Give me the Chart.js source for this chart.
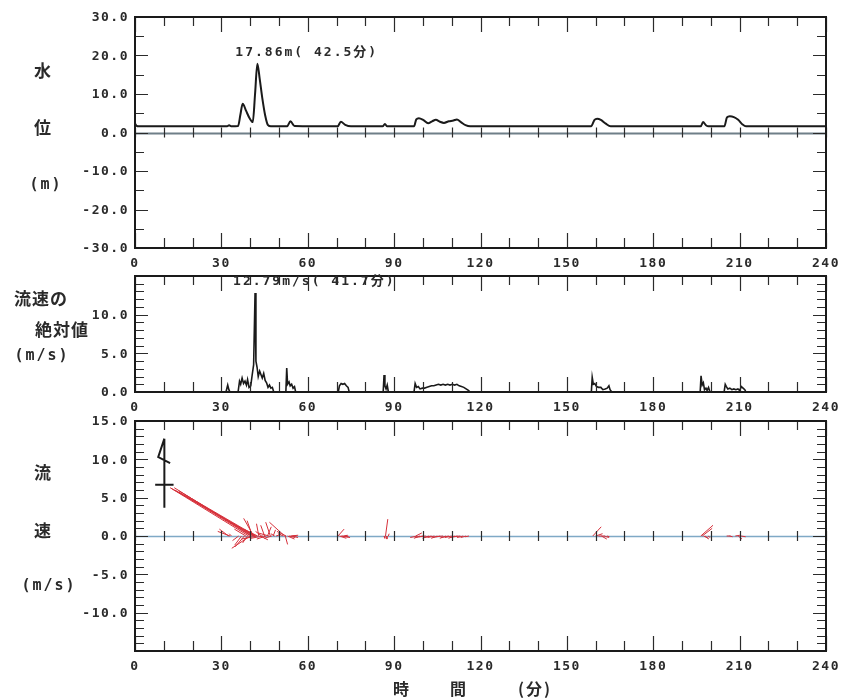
<!DOCTYPE html>
<html><head><meta charset="utf-8">
<script src="https://cdn.jsdelivr.net/npm/chart.js@4.4.1/dist/chart.umd.min.js"></script>
<style>
html,body{margin:0;padding:0;background:#fff;}
#wrap{position:relative;width:843px;height:700px;overflow:hidden;background:#fff;}
canvas{position:absolute;left:0;}
.t{position:absolute;color:#2a2a2a;white-space:nowrap;transform:translate(-50%,-50%);line-height:1;font-weight:bold;}
.cjk{font-family:"Noto Sans CJK JP";font-size:17px;letter-spacing:1px;}
.mono{font-family:"DejaVu Sans Mono";font-size:15px;letter-spacing:2px;}
.cjk2{font-family:"Noto Sans CJK JP";font-size:16px;letter-spacing:2px;}
</style></head><body>
<div id="wrap">
<canvas id="c1" width="843" height="275" style="top:0px"></canvas>
<canvas id="c2" width="843" height="153" style="top:266px"></canvas>
<canvas id="c3" width="843" height="268" style="top:410px"></canvas>

<div class="t cjk" style="left:43px;top:69px">水</div>
<div class="t cjk" style="left:43px;top:126px">位</div>
<div class="t mono" style="left:46px;top:184px">(m)</div>

<div class="t cjk" style="left:41px;top:297px">流速の</div>
<div class="t cjk" style="left:62px;top:328px">絶対値</div>
<div class="t mono" style="left:42px;top:355px">(m/s)</div>

<div class="t cjk" style="left:43px;top:471px">流</div>
<div class="t cjk" style="left:43px;top:529px">速</div>
<div class="t mono" style="left:49px;top:585px">(m/s)</div>

<div class="t cjk2" style="left:402px;top:688px">時</div>
<div class="t cjk2" style="left:459px;top:688px">間</div>
<div class="t cjk2" style="left:535px;top:688px">(分)</div>
</div>
<script>
// ---------- tick labels ----------
const xTickLabels = [0, 30, 60, 90, 120, 150, 180, 210, 240];
const levelTicks  = [-30, -20, -10, 0, 10, 20, 30];
const speedTicks  = [0, 5, 10];
const vectorTicks = [-10, -5, 0, 5, 10, 15];

// ---------- water level (m) vs time (min) ----------
const levelTime = [
  0, 0.6, 1.2,
  32.0, 32.7, 33.4,
  35.8, 36.6, 37.4, 38.6, 39.8, 40.9, 41.7, 42.5, 43.3, 44.2, 45.2, 46.2, 47.2,
  52.8, 54.0, 55.4,
  70.4, 71.5, 73.0, 75.0,
  86.0, 86.8, 87.6,
  96.9, 97.7, 98.6, 100.2, 101.8, 103.2, 104.5, 105.9, 107.3, 109.0, 110.6, 111.8, 113.2, 114.8, 116.4,
  158.4, 159.6, 160.5, 161.8, 163.5, 165.2,
  196.5, 197.3, 198.3, 199.2,
  204.7, 205.6, 206.6, 208.0, 209.5, 211.0, 212.2,
  240
];
const levelValue = [
  2.3, 1.7, 1.6,
  1.6, 1.9, 1.6,
  1.7, 4.6, 7.5, 5.6, 3.7, 2.7, 10.0, 17.86, 14.0, 9.0, 4.5, 1.9, 1.6,
  1.6, 2.9, 1.7,
  1.6, 2.8, 2.0, 1.6,
  1.6, 2.2, 1.6,
  1.6, 3.4, 3.7, 3.2, 2.4, 2.9, 3.3, 2.8, 2.5, 2.9, 3.1, 3.4, 2.7, 1.9, 1.6,
  1.6, 3.3, 3.6, 3.3, 2.3, 1.6,
  1.6, 2.7, 1.9, 1.6,
  1.6, 3.9, 4.2, 4.0, 3.3, 2.1, 1.6,
  1.6
];

// ---------- absolute velocity (m/s) ----------
const speedTime = [
  0, 31.6, 32.2, 32.6, 33.0,
  35.8, 36.3, 36.7, 37.2, 37.7, 38.2, 38.7, 39.1, 39.6, 40.2, 40.7, 41.2, 41.7, 42.0, 42.4, 42.8,
  43.3, 43.8, 44.2, 44.7, 45.2, 45.7, 46.2, 46.7, 47.2, 47.7, 48.2,
  52.4, 52.7, 53.0, 53.5, 53.9, 54.4, 54.9, 55.4, 55.8,
  70.6, 71.0, 71.6, 72.2, 72.8, 73.4, 74.0, 74.4,
  86.2, 86.5, 86.8, 87.2, 87.6, 88.0,
  96.9, 97.3, 97.8, 98.4, 99.0, 99.8, 100.6, 101.4, 102.2, 103.0, 103.8, 104.6, 105.4, 106.2,
  107.0, 107.8, 108.6, 109.4, 110.2, 111.0, 111.8, 112.6, 113.4, 114.2, 115.0, 115.8, 116.4,
  158.5, 158.8, 159.2, 159.7, 160.3, 161.0, 161.8, 162.5, 163.3, 164.0, 164.6, 165.0, 165.6,
  196.3, 196.6, 197.0, 197.4, 197.8, 198.3, 198.7, 199.2, 199.7,
  204.6, 205.0, 205.4, 205.9, 206.6, 207.3, 208.0, 208.7, 209.4, 210.0, 210.6, 211.2, 211.8, 212.2,
  240
];
const speedValue = [
  0, 0, 0.9, 0.3, 0,
  0, 1.4, 1.0, 1.8, 1.1, 1.4, 0.9, 1.6, 0.6, 0.8, 2.2, 3.5, 12.79, 4.0, 3.2, 2.0,
  2.7, 2.2, 1.8, 2.4, 1.5, 1.2, 0.6, 0.9, 0.5, 0.6, 0,
  0, 3.1, 1.0, 1.3, 0.8, 1.0, 0.5, 0.7, 0,
  0, 0.8, 1.1, 1.0, 1.1, 0.8, 0.6, 0,
  0, 2.2, 0.8, 0.4, 0.9, 0,
  0, 1.1, 0.6, 0.7, 0.4, 0.5, 0.5, 0.6, 0.7, 0.8, 0.8, 0.9, 1.0, 0.9,
  1.0, 0.9, 1.0, 0.9, 1.0, 0.9, 1.0, 0.8, 0.7, 0.6, 0.4, 0.2, 0,
  0, 1.9, 1.0, 1.1, 0.7, 0.6, 0.6, 0.3, 0.4, 0.5, 0.8, 0.3, 0,
  0, 2.1, 0.9, 1.2, 0.3, 0.5, 0.2, 0.6, 0,
  0, 1.0, 0.7, 0.4, 0.5, 0.3, 0.4, 0.3, 0.4, 0.2, 0.7, 0.5, 0.3, 0,
  0
];

// ---------- velocity vectors: time (min), east u (m/s), north v (m/s) ----------
const vecTime = [
  32.5, 33.0, 33.5,
  36.0, 37.0, 38.0, 38.5, 39.0, 39.5, 40.0, 40.3, 40.5, 40.8, 41.0, 41.2, 41.5, 41.7, 42.0,
  42.3, 42.6, 43.0, 43.5, 44.0, 44.5, 45.0, 45.5, 46.0, 46.5, 47.0, 47.5, 48.0, 48.5, 49.0,
  51.5, 52.0, 52.2, 52.5, 53.0, 53.5, 54.0, 54.5, 55.0,
  70.5, 71.0, 71.5, 72.0, 72.5, 73.0,
  86.5, 87.0, 87.5, 88.0,
  97.5, 98.0, 99.0, 100.0, 101.0, 102.0, 103.0, 104.0, 105.0, 106.0, 107.0, 108.0, 109.0,
  110.0, 111.0, 112.0, 113.0, 114.0, 115.0, 116.0,
  159.0, 160.0, 161.0, 162.0, 163.0, 164.0,
  196.5, 197.0, 197.5, 198.0, 199.0,
  205.5, 206.5, 208.5, 209.5, 210.5
];
const vecU = [
  -1.2, -1.6, -0.3,
  -0.8, -0.9, -1.2, -1.5, -0.6, -10.1, -2.4, -9.4, -10.1, -0.7, -9.7, -1.3, -10.4, -11.1, -9.3,
  -2.0, -1.8, -0.3, 1.0, -0.8, -1.6, -0.5, -1.2, 0.5, -1.4, -0.6, -1.0, 0.3, -0.5, 0.6,
  -0.7, -2.0, 0.3, -1.2, 0.9, 0.8, 1.0, 0.8, 0.4,
  0.8, 0.9, 1.2, 0.8, 0.5, 0.4,
  0.1, 0.3, 0.0, 0.1,
  0.8, -0.9, -0.8, -1.0, -0.9, -0.8, -1.0, -0.9, -0.8, -1.0, -0.9, -0.8, -1.0,
  -0.9, -0.8, -1.0, -0.9, -0.8, -0.7, -0.5,
  1.1, 0.9, 0.8, 0.7, 0.6, 0.3,
  1.6, 1.3, 0.6, 0.5, 0.3,
  0.5, 0.4, 0.6, 0.5, 0.6
];
const vecV = [
  0.9, 0.6, 0.3,
  -0.6, -1.2, -1.4, 0.9, -0.9, 6.2, -1.6, 5.7, 6.3, 2.0, 5.9, 2.3, 6.0, 6.3, 5.4,
  -0.4, 0.9, 1.6, -0.5, 0.6, -0.3, 1.4, -0.4, 1.2, 0.4, 1.8, -0.3, 0.8, 0.3, 0.2,
  0.3, 1.8, -1.1, 0.6, -0.4, -0.2, 0.1, -0.2, 0.0,
  0.9, -0.3, -0.2, -0.1, 0.1, 0.0,
  -0.3, 2.2, -0.4, 0.3,
  0.4, -0.2, -0.3, -0.2, -0.1, -0.3, -0.2, -0.2, -0.3, -0.2, -0.1, -0.3, -0.2,
  -0.2, -0.3, -0.2, -0.1, -0.2, -0.2, -0.1,
  1.2, 0.3, 0.0, -0.4, -0.2, -0.1,
  1.4, 1.0, -0.3, -0.4, -0.2,
  0.0, -0.1, 0.1, -0.4, -0.1
];
// minutes of time axis per 1 m/s of east component (keeps sticks isotropic)
const VEC_K = 2.66;
// north-indicator glyph: base time, base v, length (m/s)
const keyBaseT = 10.2, keyBaseV = 3.7, keyLen = 9.0;

// ---------- helpers ----------
const zip = (xs, ys) => xs.map((x, i) => ({x, y: ys[i]}));
function peakOf(ts, vs){ let k = 0; vs.forEach((v,i)=>{ if (v > vs[k]) k = i; }); return {t: ts[k], v: vs[k]}; }

const stickData = [];
vecTime.forEach((t, i) => {
  stickData.push({x: t, y: 0});
  stickData.push({x: t + vecU[i] * VEC_K, y: vecV[i]});
  stickData.push({x: t, y: null});
});
const keyData = [
  {x: keyBaseT, y: keyBaseV}, {x: keyBaseT, y: keyBaseV + keyLen}, {x: keyBaseT, y: null},
  {x: keyBaseT - 1.2 * VEC_K, y: keyBaseV + keyLen / 3}, {x: keyBaseT + 1.2 * VEC_K, y: keyBaseV + keyLen / 3}, {x: keyBaseT, y: null},
  {x: keyBaseT, y: keyBaseV + keyLen}, {x: keyBaseT - 0.8 * VEC_K, y: keyBaseV + keyLen - 2.4},
  {x: keyBaseT + 0.75 * VEC_K, y: keyBaseV + keyLen - 3.2}
];

const INK = '#1a1a1a';
const TXT = '#2a2a2a';
const tickFont = {family: 'DejaVu Sans Mono', size: 13, weight: 'bold'};

const framePlugin = {
  id: 'frame',
  beforeLayout(chart){ chart.ctx.letterSpacing = '1.5px'; },
  beforeDraw(chart){ chart.ctx.letterSpacing = '1.5px'; },
  beforeDatasetsDraw(chart, args, o){
    const {ctx, chartArea: a, scales: {y}} = chart;
    if (o.zeroColor){
      const z = Math.round(y.getPixelForValue(0)) + 0.5;
      ctx.save(); ctx.strokeStyle = o.zeroColor; ctx.lineWidth = o.zeroWidth || 1.5;
      ctx.beginPath(); ctx.moveTo(a.left, z); ctx.lineTo(a.right, z); ctx.stroke(); ctx.restore();
    }
  },
  afterDatasetsDraw(chart, args, o){
    const {ctx, chartArea: a, scales: {x, y}} = chart;
    ctx.save();
    ctx.strokeStyle = '#2b2b2b'; ctx.lineWidth = 1.2;
    ctx.beginPath();
    const n = Math.round((y.max - y.min) / o.yMinor);
    for (let i = 0; i <= n; i++){
      const v = y.min + i * o.yMinor;
      const p = Math.round(y.getPixelForValue(v)) + 0.5;
      const major = Math.abs(v / o.yMajor - Math.round(v / o.yMajor)) < 1e-6;
      const L = major ? 13 : 9;
      ctx.moveTo(a.left, p); ctx.lineTo(a.left + L, p);
      ctx.moveTo(a.right, p); ctx.lineTo(a.right - L, p);
    }
    const zp = o.zeroTicks ? y.getPixelForValue(0) : null;
    for (let t = x.min; t <= x.max; t += o.xMinor){
      const p = Math.round(x.getPixelForValue(t)) + 0.5;
      const major = t % o.xMajor === 0;
      ctx.moveTo(p, a.top); ctx.lineTo(p, a.top + (major ? 15 : 9));
      ctx.moveTo(p, a.bottom); ctx.lineTo(p, a.bottom - (major ? 15 : 10));
      if (zp !== null){ ctx.moveTo(p, zp - 5); ctx.lineTo(p, zp + 5); }
    }
    ctx.stroke();
    ctx.strokeStyle = INK; ctx.lineWidth = 2;
    ctx.strokeRect(a.left, a.top, a.right - a.left, a.bottom - a.top);
    if (o.peak){
      ctx.letterSpacing = '2px';
      ctx.font = 'bold 13px "DejaVu Sans Mono", "Noto Sans CJK JP"';
      ctx.fillStyle = TXT; ctx.textAlign = 'left'; ctx.textBaseline = 'middle';
      ctx.fillText(o.peak.text, x.getPixelForValue(o.peak.t) - 22, y.getPixelForValue(o.peak.v) - 11);
    }
    ctx.restore();
  }
};

function makeChart(id, datasets, yMin, yMax, yTickVals, padTop, frameOpts){
  return new Chart(document.getElementById(id), {
    type: 'line',
    data: {datasets},
    plugins: [framePlugin],
    options: {
      responsive: false, animation: false, devicePixelRatio: 1,
      layout: {padding: {top: padTop, right: 17, left: 0, bottom: 0}},
      elements: {point: {radius: 0}},
      plugins: {legend: {display: false}, tooltip: {enabled: false}, frame: frameOpts},
      scales: {
        x: {
          type: 'linear', min: 0, max: 240,
          afterBuildTicks: s => { s.ticks = xTickLabels.map(v => ({value: v})); },
          afterFit: s => { s.height = 27; s.paddingLeft = 0; s.paddingRight = 0; },
          ticks: {font: tickFont, color: TXT, padding: 8, maxRotation: 0, autoSkip: false, callback: v => String(v)},
          grid: {display: false, drawTicks: false}, border: {display: false}
        },
        y: {
          type: 'linear', min: yMin, max: yMax,
          afterBuildTicks: s => { s.ticks = yTickVals.map(v => ({value: v})); },
          afterFit: s => { s.width = 135; s.paddingTop = 0; s.paddingBottom = 0; },
          ticks: {font: tickFont, color: TXT, padding: 6, autoSkip: false, labelOffset: 1, callback: v => Number(v).toFixed(1)},
          grid: {display: false, drawTicks: false}, border: {display: false}
        }
      }
    }
  });
}

const levelPeak = peakOf(levelTime, levelValue);
const speedPeak = peakOf(speedTime, speedValue);

makeChart('c1', [{
  data: zip(levelTime, levelValue), borderColor: INK, borderWidth: 2,
  cubicInterpolationMode: 'monotone', fill: false
}], -30, 30, levelTicks, 17, {
  yMinor: 5, yMajor: 10, xMinor: 10, xMajor: 30, zeroTicks: true,
  zeroColor: '#6f7f88', zeroWidth: 2,
  peak: {t: levelPeak.t, v: levelPeak.v, text: levelPeak.v.toFixed(2) + 'm( ' + levelPeak.t.toFixed(1) + '分)'}
});

makeChart('c2', [{
  data: zip(speedTime, speedValue), borderColor: INK, borderWidth: 1.6, tension: 0, fill: false
}], 0, 15, speedTicks, 10, {
  yMinor: 1, yMajor: 5, xMinor: 10, xMajor: 30, zeroTicks: false,
  peak: {t: speedPeak.t, v: speedPeak.v, text: speedPeak.v.toFixed(2) + 'm/s( ' + speedPeak.t.toFixed(1) + '分)'}
});

makeChart('c3', [
  {data: keyData, borderColor: INK, borderWidth: 2, tension: 0, spanGaps: false, fill: false},
  {data: stickData, borderColor: '#d6303a', borderWidth: 1, tension: 0, spanGaps: false, fill: false}
], -15, 15, vectorTicks, 11, {
  yMinor: 1, yMajor: 5, xMinor: 10, xMajor: 30, zeroTicks: true,
  zeroColor: '#7fa9c6', zeroWidth: 1.5
});
</script>
</body></html>
